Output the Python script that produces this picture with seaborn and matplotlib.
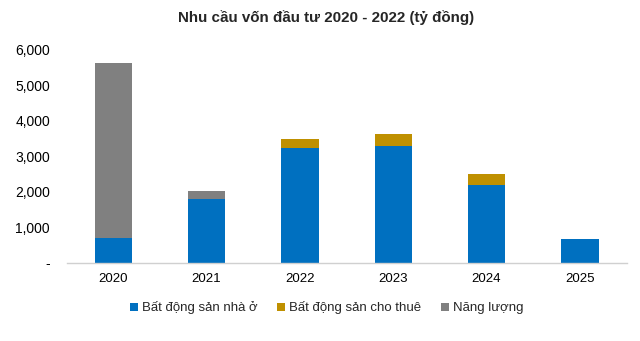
import matplotlib
matplotlib.use("Agg")
import matplotlib.pyplot as plt
import seaborn as sns
import pandas as pd
import numpy as np
from matplotlib.patches import Patch
from matplotlib.ticker import FuncFormatter

years = ["2020", "2021", "2022", "2023", "2024", "2025"]
residential = [710, 1790, 3240, 3300, 2200, 660]
rental = [0, 0, 230, 320, 310, 0]
energy = [4920, 245, 0, 0, 0, 0]
series_names = ["Bất động sản nhà ở", "Bất động sản cho thuê", "Năng lượng"]
colors = ["#0070C0", "#BF9000", "#808080"]

sns.set_theme(style="white")
plt.rcParams['font.family'] = ['Liberation Sans', 'DejaVu Sans']

res = np.array(residential)
ren = np.array(rental)
ene = np.array(energy)
layers = [res + ren + ene, res + ren, res]
layer_colors = [colors[2], colors[1], colors[0]]

fig = plt.figure(figsize=(6.4, 3.41), dpi=100)
ax = fig.add_axes([0.104, 0.229, 0.875, 0.626])

for h, c in zip(layers, layer_colors):
    df = pd.DataFrame({"year": years, "value": h})
    sns.barplot(data=df, x="year", y="value", color=c, width=0.4,
                saturation=1, ax=ax, edgecolor="none", linewidth=0)

ax.set_ylim(0, 6000)
ax.set_yticks(range(0, 6001, 1000))
ax.yaxis.set_major_formatter(FuncFormatter(lambda v, p: "-" if v == 0 else f"{int(v):,}"))
ax.set_xlabel("")
ax.set_ylabel("")
for s in ["top", "right", "left"]:
    ax.spines[s].set_visible(False)
ax.spines["bottom"].set_color("#D0D0D0")
ax.spines["bottom"].set_linewidth(1)
ax.tick_params(axis="both", length=0, labelsize=9.5, colors="#000000")
ax.tick_params(axis="y", labelsize=10, pad=12)
ax.tick_params(axis="x", pad=7)

fig.suptitle("Nhu cầu vốn đầu tư 2020 - 2022 (tỷ đồng)", fontsize=10.9,
             fontweight="bold", x=0.509, y=0.97)

handles = [Patch(facecolor=c, edgecolor="none") for c in colors]
fig.legend(handles, series_names, loc="center", bbox_to_anchor=(0.51, 0.097),
           ncol=3, frameon=False, fontsize=9.5, handlelength=0.6, handleheight=0.6,
           handletextpad=0.3, columnspacing=1.5)

fig.savefig("out.png", dpi=100)
